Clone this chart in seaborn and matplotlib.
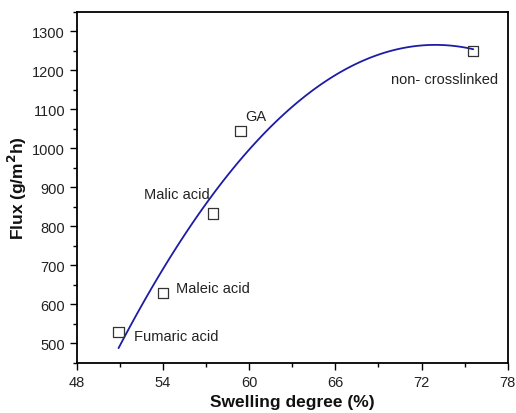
import matplotlib
matplotlib.use("Agg")
import matplotlib.pyplot as plt
import seaborn as sns
import pandas as pd
from matplotlib.ticker import MultipleLocator

sns.set_style("ticks")
plt.rcParams['font.family'] = ['Liberation Sans', 'DejaVu Sans']

labels = ["Fumaric acid", "Maleic acid", "Malic acid", "GA", "non- crosslinked"]
swelling = [50.9, 54.0, 57.5, 59.4, 75.6]
flux = [530, 630, 833, 1045, 1250]
label_x = [52.0, 54.9, 52.7, 59.7, 69.9]
label_y = [518, 641, 884, 1083, 1178]

df = pd.DataFrame({"swelling": swelling, "flux": flux})

fig, ax = plt.subplots(figsize=(5.16, 4.14), dpi=100)
sns.regplot(data=df, x="swelling", y="flux", order=2, ci=None, truncate=True,
            scatter=False, line_kws=dict(color="#1c1ca6", lw=1.3), ax=ax)
sns.scatterplot(data=df, x="swelling", y="flux", marker="s", s=55,
                facecolor="none", edgecolor="#333333", linewidth=0.9, ax=ax, zorder=3)
for t, x, y in zip(labels, label_x, label_y):
    ax.text(x, y, t, fontsize=10.5, va="center", ha="left", color="#222222")

ax.set_xlim(48, 78)
ax.set_ylim(450, 1350)
ax.xaxis.set_major_locator(MultipleLocator(6))
ax.xaxis.set_minor_locator(MultipleLocator(3))
ax.yaxis.set_major_locator(MultipleLocator(100))
ax.yaxis.set_minor_locator(MultipleLocator(50))
ax.tick_params(which="major", direction="out", length=5, width=1, labelsize=10.5,
               color="black", labelcolor="#222222")
ax.tick_params(which="minor", direction="out", length=3, width=1, color="black")
for s in ax.spines.values():
    s.set_linewidth(1.3)
    s.set_color("black")
    s.set_visible(True)
ax.set_xlabel("Swelling degree (%)", fontsize=12.5, fontweight="bold", labelpad=4,
              color="#111111")
ax.set_ylabel("Flux (g/m$^\\mathbf{2}$h)", fontsize=12.5, fontweight="bold", labelpad=2,
              color="#111111")
fig.subplots_adjust(left=0.149, right=0.984, top=0.969, bottom=0.121)
fig.savefig("out.png", dpi=100)
